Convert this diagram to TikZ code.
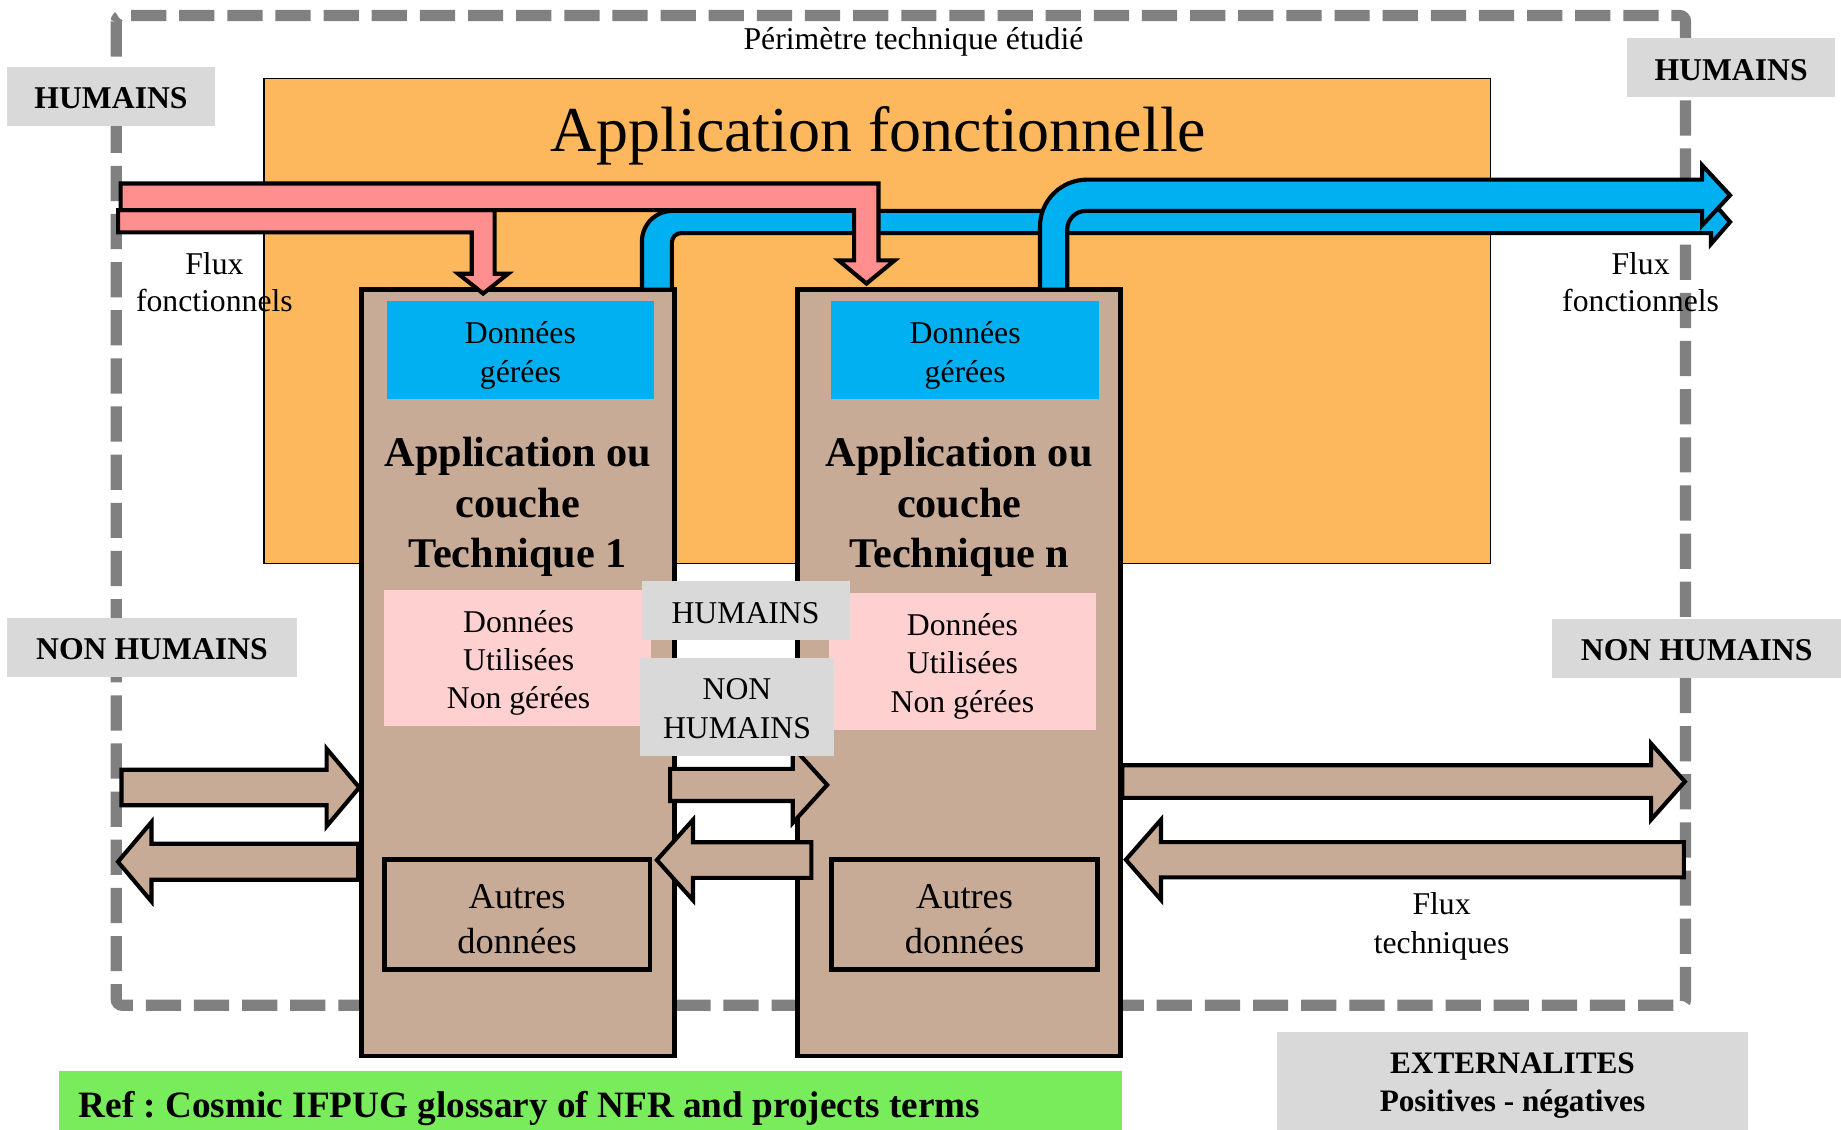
\documentclass[tikz,border=0pt]{standalone}
\usepackage{fontspec}
\setmainfont{Liberation Serif}
\frenchspacing

\definecolor{framegray}{RGB}{128,128,128}
\definecolor{labelgray}{RGB}{217,217,217}
\definecolor{appOrange}{RGB}{253,184,94}
\definecolor{techTan}{RGB}{200,171,150}
\definecolor{dataBlue}{RGB}{0,176,240}
\definecolor{usedPink}{RGB}{255,208,208}
\definecolor{flowPink}{RGB}{255,143,143}
\definecolor{refGreen}{RGB}{120,236,90}

\newcommand\fsz[2]{\fontsize{#1}{#2}\selectfont}

% straight block arrow: style, tail x, tip x, centre y, shaft half-width, head half-width, signed head length
\newcommand\blockarrow[7]{%
  \draw[#1] (#2,{#4-(#5)}) -- ({#3-(#7)},{#4-(#5)}) -- ({#3-(#7)},{#4-(#6)}) -- (#3,#4)
    -- ({#3-(#7)},{#4+(#6)}) -- ({#3-(#7)},{#4+(#5)}) -- (#2,{#4+(#5)}) -- cycle;}

\begin{document}
\begin{tikzpicture}[x=1pt,y=-1pt,
  every node/.style={inner sep=0pt, outer sep=0pt},
  frame/.style={draw=framegray, line width=9.5pt, dash pattern=on 30pt off 11pt, rounded corners=5pt},
  appbox/.style={draw=black, line width=1.2pt, fill=appOrange},
  techbox/.style={draw=black, line width=4pt, fill=techTan},
  datablue/.style={fill=dataBlue},
  usedbox/.style={fill=usedPink},
  usedtext/.style={align=center, font=\fsz{27}{32.5}},
  otherbox/.style={draw=black, line width=4pt, fill=techTan},
  othertext/.style={align=center, font=\fsz{31}{38.3}},
  techtitle/.style={align=center, font=\bfseries\fsz{36}{43}},
  tag/.style={fill=labelgray, align=center, font=\bfseries\fsz{27}{33}},
  midtag/.style={fill=labelgray, align=center, font=\fsz{27}{32.7}},
  fluxtext/.style={align=center, font=\fsz{27}{31.2}},
  pinkflow/.style={draw=black, line width=3.5pt, fill=flowPink, line join=miter},
  blueflow/.style={draw=black, line width=3.5pt, fill=dataBlue, line join=miter},
  techflow/.style={draw=black, line width=3.5pt, fill=techTan, line join=miter}
]
\useasboundingbox (0,0) rectangle (1568,962);

% studied technical perimeter
\draw[frame] (99,13.2) rectangle (1435.6,856.2);
\node[font=\fsz{27}{33}] (perimetre) at (778,36) {Périmètre technique étudié};

% functional application
\node[appbox, minimum width=1044.8pt, minimum height=413.1pt] (app) at (747.3,273.25) {};
\node[font=\fsz{54.5}{60}, anchor=base] (apptitle) at (748,129.2) {Application fonctionnelle};

% technical applications / layers
\node[techbox, minimum width=266.4pt, minimum height=652.7pt] (tech1) at (441.2,573.05) {};
\node[techbox, minimum width=275.5pt, minimum height=652.7pt] (techn) at (816.75,573.05) {};

\node[datablue, minimum width=227.3pt, minimum height=83.2pt] (gere1) at (443.25,298) {};
\node[usedtext, font=\fsz{27}{33}] (gere1txt) at (443.25,302.5) {Données\\gérées};
\node[datablue, minimum width=228pt, minimum height=83.2pt] (geren) at (822,298) {};
\node[usedtext, font=\fsz{27}{33}] (gerentxt) at (822,302.5) {Données\\gérées};

\node[techtitle] (title1) at (441,432) {Application ou\\couche\\Technique 1};
\node[techtitle] (titlen) at (817,432) {Application ou\\couche\\Technique n};

\node[usedbox, minimum width=227.5pt, minimum height=115.5pt] (used1) at (440.75,560.25) {};
\node[usedtext] (used1txt) at (441.7,564.5) {Données\\Utilisées\\Non gérées};
\node[usedbox, minimum width=227.5pt, minimum height=116.4pt] (usedn) at (819.75,563.6) {};
\node[usedtext] (usedntxt) at (819.7,567.5) {Données\\Utilisées\\Non gérées};

\node[otherbox, minimum width=226.3pt, minimum height=93.4pt] (autres1) at (440.35,778.9) {};
\node[othertext] (autres1txt) at (440.4,782.5) {Autres\\données};
\node[otherbox, minimum width=227pt, minimum height=93.4pt] (autresn) at (821.5,778.9) {};
\node[othertext] (autresntxt) at (821.5,782.5) {Autres\\données};

% functional flows: managed data leaving towards the right
\draw[blueflow] (546.75,246.7) -- (546.75,205.6)
  .. controls (546.75,191.24) and (558.39,179.6) .. (572.75,179.6)
  -- (1457.25,179.6) -- (1457.25,170.35) -- (1473.5,189.05) -- (1457.25,207.75) -- (1457.25,198.5)
  -- (580.25,198.5) .. controls (575.83,198.5) and (572.25,202.08) .. (572.25,206.5)
  -- (572.25,246.7) -- cycle;
\draw[blueflow] (885.75,246.7) -- (885.75,193)
  .. controls (885.75,170.9) and (903.65,153) .. (925.75,153)
  -- (1449.75,153) -- (1449.75,140.75) -- (1473.5,166.3) -- (1449.75,191.85) -- (1449.75,179.6)
  -- (924.95,179.6) .. controls (916.1,179.6) and (908.95,186.76) .. (908.95,195.6)
  -- (908.95,246.7) -- cycle;

% functional flows: incoming from the left
\draw[pinkflow] (100.55,178.9) -- (421.25,178.9) -- (421.25,233.15) -- (432.75,233.15)
  -- (411.5,250) -- (390.25,233.15) -- (401.75,233.15) -- (401.75,197.85) -- (100.55,197.85) -- cycle;
\draw[pinkflow] (102.75,156.25) -- (748.25,156.25) -- (748.25,221.75) -- (762,221.75)
  -- (738,241.5) -- (714.2,221.75) -- (727.45,221.75) -- (727.45,178.9) -- (102.75,178.9) -- cycle;

% technical flows
\blockarrow{techflow}{103.5}{306}{670.7}{15.1}{33}{27.8}
\blockarrow{techflow}{305}{100.5}{733.95}{15.3}{33.8}{-28.5}
\blockarrow{techflow}{570.7}{704.5}{668.5}{13.7}{32.3}{29.3}
\blockarrow{techflow}{691}{559.5}{732.5}{15.2}{34.2}{-30.7}
\blockarrow{techflow}{955.8}{1435}{665.7}{13.9}{32.3}{28.7}
\blockarrow{techflow}{1434.2}{958.9}{732.25}{15}{34.1}{-29.9}

% actors
\node[tag, minimum width=177.3pt, minimum height=50.5pt] (humL) at (94.55,82.05) {};
\node[font=\bfseries\fsz{27}{33}] (humLtxt) at (94.55,84) {HUMAINS};
\node[tag, minimum width=177.2pt, minimum height=49.7pt] (humR) at (1474.4,57.45) {};
\node[font=\bfseries\fsz{27}{33}] (humRtxt) at (1474.4,59.5) {HUMAINS};
\node[tag, minimum width=246.5pt, minimum height=49.7pt] (nonhumL) at (129.45,551.45) {};
\node[font=\bfseries\fsz{27}{33}] (nonhumLtxt) at (129.45,553.2) {NON HUMAINS};
\node[tag, minimum width=245.8pt, minimum height=49.7pt] (nonhumR) at (1445.1,552.25) {};
\node[font=\bfseries\fsz{27}{33}] (nonhumRtxt) at (1445.1,554) {NON HUMAINS};
\node[midtag, minimum width=177.2pt, minimum height=50.3pt] (humM) at (635.4,519.95) {};
\node[font=\fsz{27}{33}] (humMtxt) at (635,522) {HUMAINS};
\node[midtag, minimum width=165.4pt, minimum height=83.6pt] (nonhumM) at (627.7,601.8) {};
\node[midtag, fill=none] (nonhumMtxt) at (627.7,603.5) {NON\\HUMAINS};

% flow captions
\node[fluxtext] (fluxL) at (182.6,240.5) {Flux\\fonctionnels};
\node[fluxtext] (fluxR) at (1397.3,240.5) {Flux\\fonctionnels};
\node[fluxtext, font=\fsz{27}{33.1}] (fluxT) at (1227.8,789) {Flux\\techniques};

% externalities and reference
\node[tag, minimum width=400.8pt, minimum height=83.2pt] (ext) at (1288.2,920.4) {};
\node[align=center, font=\bfseries\fsz{26.6}{33}] (exttxt) at (1288.2,924.5) {EXTERNALITES\\Positives - négatives};
\node[fill=refGreen, minimum width=905.7pt, minimum height=49.8pt] (ref) at (502.85,937.1) {};
\node[font=\bfseries\fsz{31.7}{36}, anchor=base west] (reftxt) at (67,952) {Ref : Cosmic IFPUG glossary of NFR and projects terms};
\end{tikzpicture}
\end{document}
